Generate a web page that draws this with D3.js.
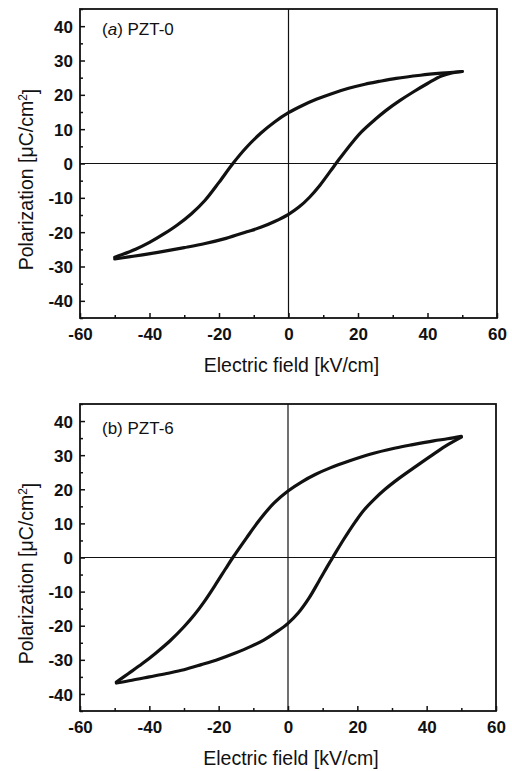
<!DOCTYPE html>
<html>
<head>
<meta charset="utf-8">
<style>
  body { margin: 0; background: #fff; }
  text { font-family: "Liberation Sans", Arial, sans-serif; fill: #111; }
</style>
</head>
<body>
<svg id="chart" width="512" height="771"></svg>
<script src="https://cdn.jsdelivr.net/npm/d3@7"></script>
<script>
// panel (a) PZT-0 : descending branch (+50 -> -50) and ascending branch (-50 -> +50)
const fieldDownA = [50, 44, 38, 31, 26, 22, 17.3, 12, 8, 4, 0, -4, -8, -12, -16, -20, -24, -28, -32, -36, -40, -44, -48, -50]
const polDownA   = [26.8, 26.3, 25.7, 24.8, 23.9, 23.1, 21.9, 20.2, 18.7, 16.9, 14.8, 12.1, 8.8, 4.8, 0, -5.5, -10.7, -14.7, -17.9, -20.6, -23, -25, -26.6, -27.3]
const fieldUpA   = [-50, -46, -42, -36, -30, -24, -18, -12, -8, -4, 0, 3, 6, 9, 12, 15, 18, 21, 24.9, 28, 32, 36, 40, 44, 47, 50]
const polUpA     = [-27.8, -27.2, -26.6, -25.6, -24.5, -23.3, -21.8, -19.9, -18.6, -16.9, -14.8, -12.7, -9.9, -6.4, -2.3, 1.8, 5.7, 9.2, 12.8, 15.4, 18.3, 20.9, 23.3, 25.5, 26.4, 26.8]

// panel (b) PZT-6
const fieldDownB = [50, 46, 42, 36, 31, 23.4, 17.6, 12, 8, 4, 0, -4, -8, -12, -15.9, -18, -21, -24, -27, -30, -34, -38, -42, -46, -49.5]
const polDownB   = [35.5, 34.8, 34.2, 33.1, 32.1, 30.2, 28.3, 26.2, 24.4, 22.2, 19.5, 16, 11.3, 5.7, 0, -3.3, -8.1, -12.7, -16.8, -20.3, -24.4, -27.9, -31.1, -34, -36.5]
const fieldUpB   = [-49.5, -45, -40, -35, -30, -25, -20, -15, -11, -7, -3, 0, 3, 6, 9, 12, 12.9, 16, 19.5, 22, 25, 28, 32, 37, 42, 46, 50]
const polUpB     = [-36.8, -36, -35, -34, -32.9, -31.4, -29.8, -27.9, -26.2, -24.2, -21.6, -19.3, -16.2, -12, -6.8, -1.5, 0, 5.2, 10.6, 14.0, 17.2, 20.0, 23.2, 26.8, 30.3, 33, 35.3]

const xTicks = [-60, -40, -20, 0, 20, 40, 60]
const yTicks = [-40, -30, -20, -10, 0, 10, 20, 30, 40]

const svg = d3.select("#chart")

function zip(xs, ys) { return xs.map((x, i) => [x, ys[i]]) }

function drawPanel(box, label, italicA, branches) {
  let g = svg.append("g")
  let x = d3.scaleLinear().domain([-60, 60]).range([box.left, box.right])
  let y = d3.scaleLinear().domain([-45, 45]).range([box.bottom, box.top])

  // zero lines
  g.append("line").attr("x1", x(0)).attr("x2", x(0)).attr("y1", box.top).attr("y2", box.bottom)
    .attr("stroke", "#111").attr("stroke-width", 1.2)
  g.append("line").attr("x1", box.left).attr("x2", box.right).attr("y1", y(0)).attr("y2", y(0))
    .attr("stroke", "#111").attr("stroke-width", 1.2)

  // loop
  let line = d3.line().x(d => x(d[0])).y(d => y(d[1])).curve(d3.curveCatmullRom.alpha(0.5))
  branches.forEach(b => {
    g.append("path").attr("d", line(b)).attr("fill", "none")
      .attr("stroke", "#111").attr("stroke-width", 3.2).attr("stroke-linejoin", "round")
      .attr("stroke-linecap", "round")
  })

  // axes with inward ticks, hyphen minus like the original
  let fmt = d => String(d)
  let xAxis = d3.axisBottom(x).tickValues(xTicks).tickSize(-5).tickPadding(10).tickFormat(fmt)
  let xMinor = d3.axisBottom(x).tickValues(d3.range(-50, 60, 20)).tickSize(-3).tickFormat("")
  let yAxis = d3.axisLeft(y).tickValues(yTicks).tickSize(-5).tickPadding(7).tickFormat(fmt)
  let yMinor = d3.axisLeft(y).tickValues(d3.range(-45, 50, 10)).tickSize(-3).tickFormat("")

  ;[xAxis, xMinor].forEach(ax => {
    let a = g.append("g").attr("transform", `translate(0,${box.bottom})`).call(ax)
    a.select(".domain").remove()
    a.selectAll("line").attr("stroke", "#111").attr("stroke-width", 1.5)
    a.selectAll("text").style("font-size", "17px").style("font-weight", "bold").attr("fill", "#111")
  })
  ;[yAxis, yMinor].forEach(ax => {
    let a = g.append("g").attr("transform", `translate(${box.left},0)`).call(ax)
    a.select(".domain").remove()
    a.selectAll("line").attr("stroke", "#111").attr("stroke-width", 1.5)
    a.selectAll("text").style("font-size", "17px").style("font-weight", "bold").attr("fill", "#111").attr("dy", "0.36em")
  })

  // frame
  g.append("rect").attr("x", box.left).attr("y", box.top)
    .attr("width", box.right - box.left).attr("height", box.bottom - box.top)
    .attr("fill", "none").attr("stroke", "#111").attr("stroke-width", 1.8)

  // panel label
  let t = g.append("text").attr("x", box.left + 22).attr("y", box.labelY).style("font-size", "17px")
  if (italicA) {
    t.append("tspan").text("(")
    t.append("tspan").style("font-style", "italic").text("a")
    t.append("tspan").text(") " + label)
  } else {
    t.text(label)
  }

  // axis titles
  g.append("text").attr("x", (box.left + box.right) / 2 + 3).attr("y", box.bottom + 54)
    .attr("text-anchor", "middle").style("font-size", "19.5px").text("Electric field [kV/cm]")
  let yt = g.append("text")
    .attr("transform", `translate(${box.left - 47},${(box.top + box.bottom) / 2 + 16}) rotate(-90)`)
    .attr("text-anchor", "middle").style("font-size", "19.5px")
  yt.append("tspan").text("Polarization [\u03bcC/cm")
  yt.append("tspan").attr("dy", "-0.5em").style("font-size", "12px").text("2")
  yt.append("tspan").attr("dy", "0.5em").text("]")
}

drawPanel({left: 80, right: 497, top: 9, bottom: 318, labelY: 35}, "PZT-0", true,
  [zip(fieldDownA, polDownA), zip(fieldUpA, polUpA)])
drawPanel({left: 80, right: 496, top: 404, bottom: 711, labelY: 434}, "(b) PZT-6", false,
  [zip(fieldDownB, polDownB), zip(fieldUpB, polUpB)])
</script>
</body>
</html>
